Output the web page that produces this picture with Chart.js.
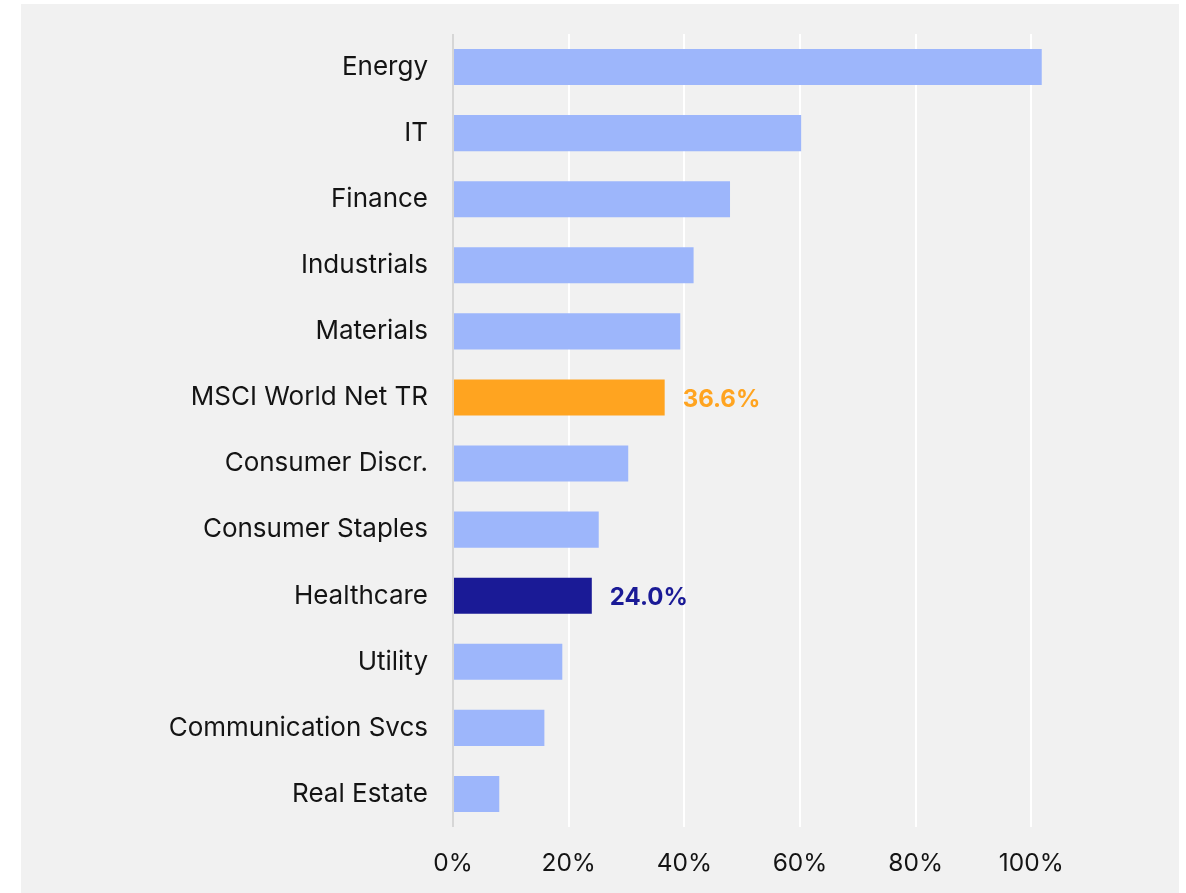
<!DOCTYPE html>
<html>
<head>
<meta charset="utf-8">
<script src="https://cdn.jsdelivr.net/npm/chart.js@4.4.1/dist/chart.umd.min.js"></script>
<style>
  html, body { margin: 0; padding: 0; background: #ffffff; }
  #wrap { position: absolute; left: 21px; top: 4px; width: 1158px; height: 889px; background: #f1f1f1; }
  canvas { display: block; }
</style>
</head>
<body>
<div id="wrap"><canvas id="c" width="1158" height="889"></canvas></div>
<script>
const categories = ["Energy", "IT", "Finance", "Industrials", "Materials", "MSCI World Net TR",
  "Consumer Discr.", "Consumer Staples", "Healthcare", "Utility", "Communication Svcs", "Real Estate"];
const values = [101.8, 60.2, 47.9, 41.6, 39.3, 36.6, 30.3, 25.2, 24.0, 18.9, 15.8, 8.0];
const tickValues = [0, 20, 40, 60, 80, 100];
const labelledCategories = ["MSCI World Net TR", "Healthcare"];

const BASE = "#9db6fb", ORANGE = "#ffa420", NAVY = "#1a1a96";
const barColors = categories.map(c => c === "MSCI World Net TR" ? ORANGE : (c === "Healthcare" ? NAVY : BASE));
const FONT = "Inter, 'Noto Sans', sans-serif";

const valueLabels = {
  id: "valueLabels",
  afterDatasetsDraw(chart) {
    const ctx = chart.ctx;
    const meta = chart.getDatasetMeta(0);
    ctx.save();
    ctx.font = "bold 24px " + FONT;
    ctx.textBaseline = "middle";
    ctx.textAlign = "left";
    meta.data.forEach((bar, i) => {
      if (!labelledCategories.includes(categories[i])) return;
      ctx.fillStyle = barColors[i];
      ctx.fillText(values[i].toFixed(1) + "%", bar.x + 18, bar.y + 2);
    });
    ctx.restore();
  }
};

new Chart(document.getElementById("c"), {
  type: "bar",
  data: {
    labels: categories,
    datasets: [{
      data: values,
      backgroundColor: barColors,
      borderWidth: 0,
      barPercentage: 0.545,
      categoryPercentage: 1.0
    }]
  },
  options: {
    indexAxis: "y",
    responsive: false,
    animation: false,
    layout: { padding: { top: 30, right: 32, left: 0, bottom: 0 } },
    plugins: { legend: { display: false }, tooltip: { enabled: false } },
    scales: {
      x: {
        min: 0, max: 120,
        afterBuildTicks(scale) { scale.ticks = tickValues.concat([120]).map(v => ({ value: v })); },
        afterFit(scale) { scale.height = 66; scale.paddingLeft = 0; scale.paddingRight = 0; },
        border: { display: false },
        grid: {
          drawTicks: false,
          lineWidth: 2,
          color: ctx => ctx.tick && ctx.tick.value === 0 ? "#d6d6d6" : (ctx.tick && ctx.tick.value > 100 ? "rgba(0,0,0,0)" : "#ffffff")
        },
        ticks: {
          padding: 22,
          color: "#141414",
          font: { family: FONT, size: 24.5 },
          callback: v => tickValues.includes(v) ? v + "%" : ""
        }
      },
      y: {
        afterFit(scale) { scale.width = 432; scale.paddingTop = 0; scale.paddingBottom = 0; },
        border: { display: false },
        grid: { display: false, drawTicks: false },
        ticks: {
          padding: 25,
          color: "#141414",
          font: { family: FONT, size: 26 }
        }
      }
    }
  },
  plugins: [valueLabels]
});
</script>
</body>
</html>
